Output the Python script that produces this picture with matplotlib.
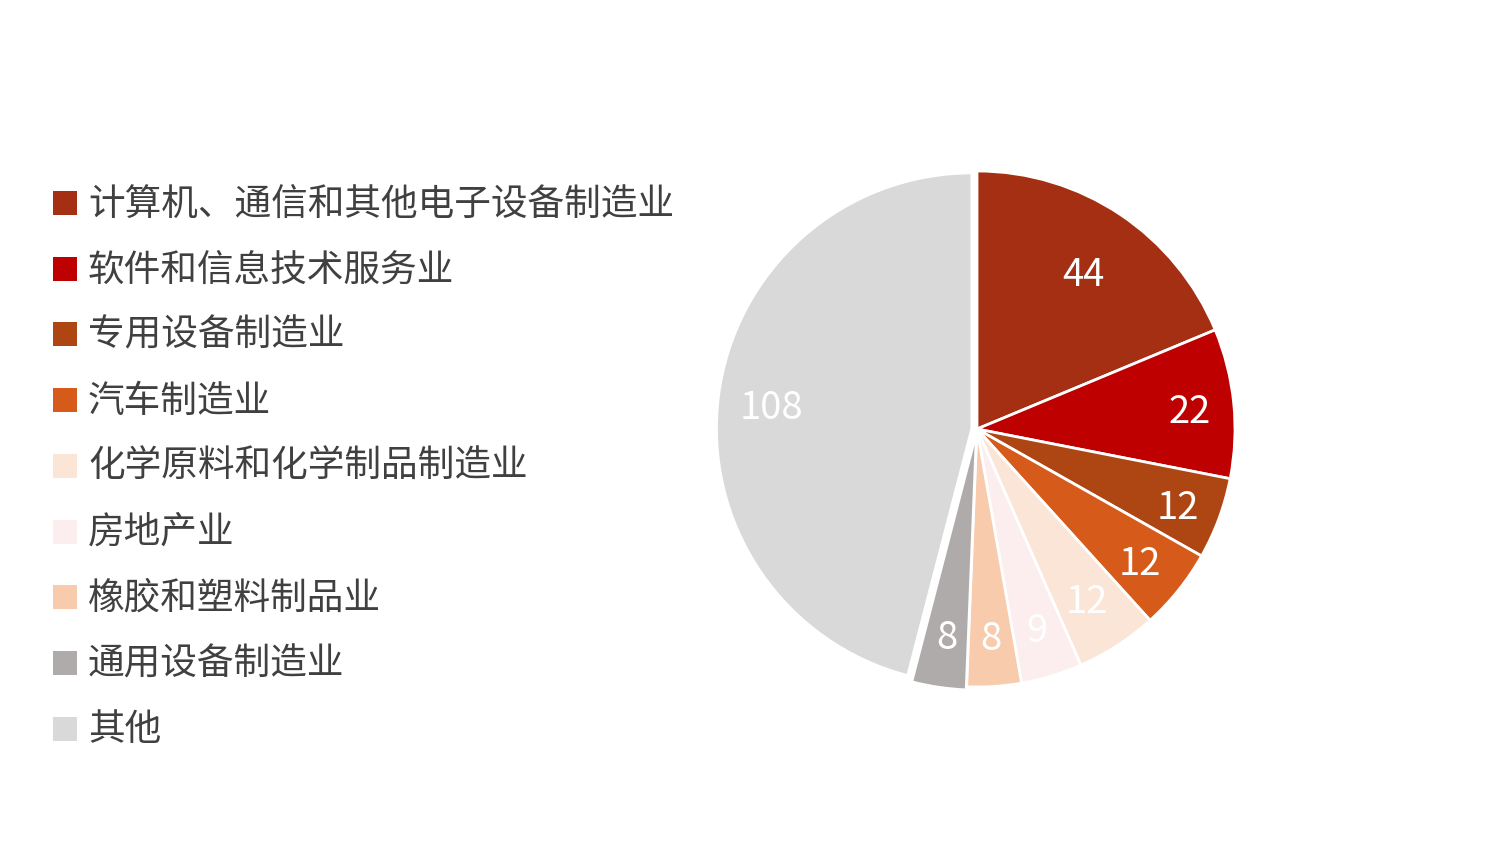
import numpy as np
import matplotlib.pyplot as plt
from matplotlib.patches import Rectangle

plt.rcParams['font.family'] = ['Noto Sans CJK SC', 'DejaVu Sans']

# data (clockwise from 12 o'clock)
categories = ['计算机、通信和其他电子设备制造业', '软件和信息技术服务业', '专用设备制造业',
              '汽车制造业', '化学原料和化学制品制造业', '房地产业', '橡胶和塑料制品业',
              '通用设备制造业', '其他']
values = [44, 22, 12, 12, 12, 9, 8, 8, 108]
colors = ['#A42F12', '#BF0000', '#AE4613', '#D65A1A', '#FBE5D6',
          '#FCEDEE', '#F8CBAD', '#AFABAB', '#D9D9D9']
# radial position of each number (fraction of radius)
label_r = [0.74, 0.83, 0.83, 0.81, 0.78, 0.8, 0.8, 0.8, 0.8]

W, H = 1502, 845
fig = plt.figure(figsize=(W / 100, H / 100), dpi=100)

# pie axes: centre (977, 430) px, radius 258 px, with some margin
cx, cy, R = 977, 430, 258
m = 1.1
ax = fig.add_axes([(cx - R * m) / W, (H - cy - R * m) / H, 2 * R * m / W, 2 * R * m / H])

explode = [0, 0, 0, 0, 0, 0, 0, 0.012, 0.02]
wedges, texts = ax.pie(values, colors=colors, startangle=90, counterclock=False,
                       explode=explode, labels=[str(v) for v in values],
                       wedgeprops=dict(edgecolor='white', linewidth=2),
                       textprops=dict(color='white', fontsize=27.5))
wedges[-1].set_radius(0.99)

for w, t, r in zip(wedges, texts, label_r):
    ang = np.deg2rad((w.theta1 + w.theta2) / 2)
    t.set_position((r * np.cos(ang), r * np.sin(ang) - 0.015))
    t.set_ha('center')
    t.set_va('center')
# the big grey slice has its number a bit lower
texts[-1].set_position((0.8 * np.cos(np.deg2rad(174)), 0.8 * np.sin(np.deg2rad(174))))

ax.set_xlim(-m, m)
ax.set_ylim(-m, m)
ax.set_aspect('equal')
ax.axis('off')

# legend, drawn by hand on the left
row0, step = 204, 65.7
for i, (cat, col) in enumerate(zip(categories, colors)):
    yy = row0 + i * step
    fig.patches.append(Rectangle((53 / W, 1 - (yy + 12) / H), 24 / W, 24 / H,
                                 transform=fig.transFigure, facecolor=col,
                                 edgecolor='none'))
    fig.text(88 / W, 1 - yy / H, cat, fontsize=26.4, color='#404040',
             ha='left', va='center')

fig.savefig('out.png', dpi=100, facecolor='white')
